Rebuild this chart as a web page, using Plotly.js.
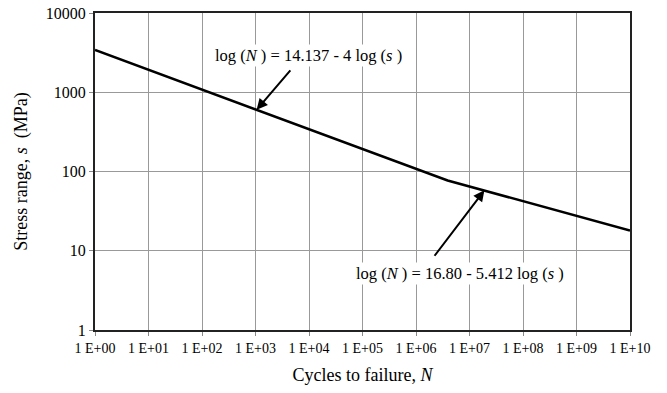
<!DOCTYPE html>
<html>
<head>
<meta charset="utf-8">
<script src="https://cdn.plot.ly/plotly-3.0.1.min.js"></script>
<style>
  html, body { margin: 0; padding: 0; background: #fff; }
  #chart { width: 667px; height: 393px; }
</style>
</head>
<body>
<div id="chart"></div>
<script>
// S-N curve: two-slope fatigue line (cycles to failure vs stress range)
const cycles = [1, 3.9e6, 1e10];
const stressRange = [3420, 77, 18];

// Axis tick positions and labels
const xTickVals = [1, 1e1, 1e2, 1e3, 1e4, 1e5, 1e6, 1e7, 1e8, 1e9, 1e10];
const xTickText = ['1 E+00', '1 E+01', '1 E+02', '1 E+03', '1 E+04', '1 E+05',
                   '1 E+06', '1 E+07', '1 E+08', '1 E+09', '1 E+10'];
const yTickVals = [1, 10, 100, 1000, 10000];
const yTickText = ['1', '10', '100', '1000', '10000'];

// Equation labels and the points on the curve their arrows point at
const eqLabels = [
  'log (<i>N</i> ) = 14.137 - 4 log (<i>s</i> )',
  'log (<i>N</i> ) = 16.80 - 5.412 log (<i>s</i> )'
];
const arrowN = [1.05e3, 1.9e7];
const arrowS = [600, 58];
const labelN = [9.6e3, 6.6e6];
const labelS = [2950, 5.2];

const serif = '"Liberation Serif", "DejaVu Serif", serif';

const trace = {
  x: cycles,
  y: stressRange,
  type: 'scatter',
  mode: 'lines',
  line: { color: '#000', width: 2.5 },
  hoverinfo: 'skip',
  showlegend: false
};

const annotations = [
  // arrows
  { x: Math.log10(arrowN[0]), y: Math.log10(arrowS[0]), xref: 'x', yref: 'y',
    showarrow: true, arrowhead: 2, arrowsize: 1.1, arrowwidth: 2, arrowcolor: '#000',
    ax: 35, ay: -41, text: '' },
  { x: Math.log10(arrowN[1]), y: Math.log10(arrowS[1]), xref: 'x', yref: 'y',
    showarrow: true, arrowhead: 2, arrowsize: 1.1, arrowwidth: 2, arrowcolor: '#000',
    ax: -51, ay: 67, text: '' },
  // equation texts
  { x: Math.log10(labelN[0]), y: Math.log10(labelS[0]), xref: 'x', yref: 'y',
    showarrow: false, text: eqLabels[0], font: { family: serif, size: 16.5, color: '#000' },
    bgcolor: '#fff' },
  { x: Math.log10(labelN[1]), y: Math.log10(labelS[1]), xref: 'x', yref: 'y',
    showarrow: false, text: eqLabels[1], font: { family: serif, size: 16.5, color: '#000' },
    bgcolor: '#fff' }
];

const layout = {
  width: 667,
  height: 393,
  margin: { l: 95, r: 37, t: 13, b: 63 },
  paper_bgcolor: '#fff',
  plot_bgcolor: '#fff',
  font: { family: serif, color: '#000' },
  xaxis: {
    type: 'log',
    range: [0, 10],
    tickvals: xTickVals,
    ticktext: xTickText,
    tickfont: { family: serif, size: 14, color: '#000' },
    ticks: 'outside',
    ticklen: 4,
    tickcolor: '#888',
    showgrid: true,
    gridcolor: '#999',
    gridwidth: 1,
    showline: true,
    linecolor: '#222',
    linewidth: 2,
    mirror: true,
    zeroline: false,
    title: { text: 'Cycles to failure, <i>N</i>', font: { family: serif, size: 18, color: '#000' }, standoff: 14 }
  },
  yaxis: {
    type: 'log',
    range: [0, 4],
    tickvals: yTickVals,
    ticktext: yTickText,
    tickfont: { family: serif, size: 16, color: '#000' },
    ticks: 'outside',
    ticklen: 4,
    tickcolor: '#888',
    showgrid: true,
    gridcolor: '#999',
    gridwidth: 1,
    showline: true,
    linecolor: '#222',
    linewidth: 2,
    mirror: true,
    zeroline: false,
    title: { text: 'Stress range, <i>s</i>&nbsp; (MPa)', font: { family: serif, size: 18, color: '#000' }, standoff: 13 }
  },
  annotations: annotations
};

Plotly.newPlot('chart', [trace], layout, { displayModeBar: false, staticPlot: true });
</script>
</body>
</html>
